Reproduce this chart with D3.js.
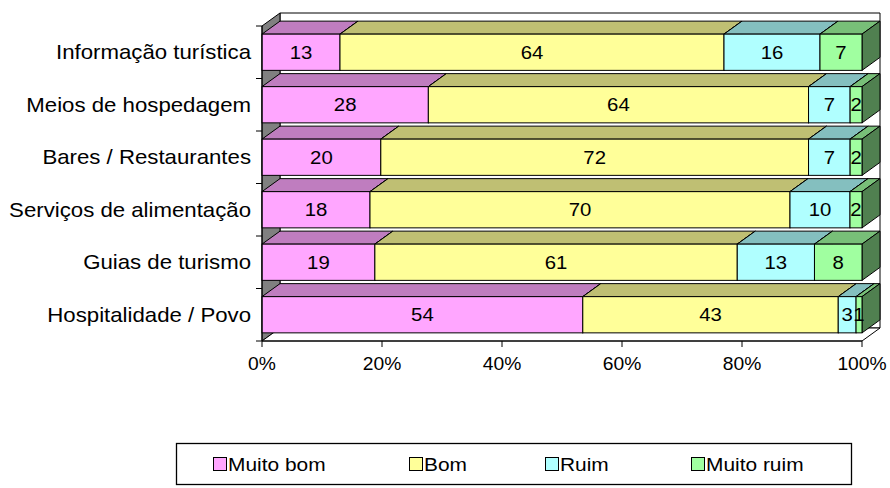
<!DOCTYPE html>
<html>
<head>
<meta charset="utf-8">
<script src="https://cdn.jsdelivr.net/npm/d3@7/dist/d3.min.js"></script>
<style>
  html, body { margin: 0; padding: 0; background: #fff; }
  svg { display: block; font-family: "Liberation Sans", Arial, sans-serif; }
</style>
</head>
<body>
<svg id="chart" width="890" height="488"></svg>
<script>
// Survey answers per service (percent of respondents)
const categories = [
  "Informação turística",
  "Meios de hospedagem",
  "Bares / Restaurantes",
  "Serviços de alimentação",
  "Guias de turismo",
  "Hospitalidade / Povo"
];
const seriesNames = ["Muito bom", "Bom", "Ruim", "Muito ruim"];
const muitoBom  = [13, 28, 20, 18, 19, 54];
const bom       = [64, 64, 72, 70, 61, 43];
const ruim      = [16, 7, 7, 10, 13, 3];
const muitoRuim = [7, 2, 2, 2, 8, 1];
const xTicks = [0, 0.2, 0.4, 0.6, 0.8, 1];
const seriesColors = ["#FFA6FF", "#FFFF99", "#B0FFFF", "#A0FFA0"];

const seriesValues = [muitoBom, bom, ruim, muitoRuim];

const svg = d3.select("#chart");
const STRETCH = 1.1;

// plot frame (front plane) and depth offset of the 3D box
const pLeft = 262, pRight = 862, pTop = 26, pBottom = 341;
const DX = 18, DY = -13;

const x = d3.scaleLinear().domain([0, 1]).range([pLeft, pRight]);
const y = d3.scaleBand().domain(categories).range([pTop, pBottom])
  .paddingInner(0.31).paddingOuter(0.155);
const step = (pBottom - pTop) / categories.length;

const shade = (c, k) => {
  const col = d3.rgb(c);
  return d3.rgb(col.r * k, col.g * k, col.b * k).formatHex();
};
const poly = pts => "M" + pts.map(p => p.join(",")).join("L") + "Z";

// walls and floor
const g = svg.append("g");
g.append("path")
  .attr("d", poly([[pLeft + DX, pTop + DY], [pRight + DX, pTop + DY], [pRight + DX, pBottom + DY], [pLeft + DX, pBottom + DY]]))
  .attr("fill", "#fff").attr("stroke", "#000").attr("stroke-width", 1);
g.append("path")
  .attr("d", poly([[pLeft, pTop], [pLeft + DX, pTop + DY], [pLeft + DX, pBottom + DY], [pLeft, pBottom]]))
  .attr("fill", "#808080").attr("stroke", "#000").attr("stroke-width", 1);
g.append("path")
  .attr("d", poly([[pLeft, pBottom], [pRight, pBottom], [pRight + DX, pBottom + DY], [pLeft + DX, pBottom + DY]]))
  .attr("fill", "#fff").attr("stroke", "#000").attr("stroke-width", 1);

// stacked 100% bars
categories.forEach((cat, i) => {
  const vals = seriesValues.map(s => s[i]);
  const total = d3.sum(vals);
  const y0 = y(cat), h = y.bandwidth();
  let acc = 0;
  const bar = svg.append("g");
  vals.forEach((v, j) => {
    const xa = x(acc / total), xb = x((acc + v) / total);
    acc += v;
    const c = seriesColors[j];
    const seg = bar.append("g");
    seg.append("path")
      .attr("d", poly([[xa, y0], [xa + DX, y0 + DY], [xb + DX, y0 + DY], [xb, y0]]))
      .attr("fill", shade(c, 0.75)).attr("stroke", "#000").attr("stroke-width", 1);
    seg.append("path")
      .attr("d", poly([[xb, y0], [xb + DX, y0 + DY], [xb + DX, y0 + h + DY], [xb, y0 + h]]))
      .attr("fill", shade(c, 0.5)).attr("stroke", "#000").attr("stroke-width", 1);
    seg.append("rect")
      .attr("x", xa).attr("y", y0).attr("width", xb - xa).attr("height", h)
      .attr("fill", c).attr("stroke", "#000").attr("stroke-width", 1);
  });
  // value labels on top of all segments
  let acc2 = 0;
  vals.forEach(v => {
    const cx = x((acc2 + v / 2) / total);
    acc2 += v;
    bar.append("text")
      .attr("transform", `translate(${cx},${y0 + h / 2 + 6.5}) scale(${STRETCH},1)`)
      .attr("text-anchor", "middle")
      .attr("font-size", 18.5)
      .attr("fill", "#000")
      .text(v);
  });
});

// category axis
svg.append("line").attr("x1", pLeft).attr("x2", pLeft).attr("y1", pTop).attr("y2", pBottom)
  .attr("stroke", "#000");
d3.range(categories.length + 1).forEach(k => {
  const ty = pTop + k * step;
  svg.append("line").attr("x1", pLeft - 6).attr("x2", pLeft).attr("y1", ty).attr("y2", ty)
    .attr("stroke", "#000");
});
categories.forEach(cat => {
  svg.append("text")
    .attr("transform", `translate(251,${y(cat) + y.bandwidth() / 2 + 7}) scale(${STRETCH},1)`)
    .attr("text-anchor", "end")
    .attr("font-size", 20.2)
    .text(cat);
});

// value axis
svg.append("line").attr("x1", pLeft).attr("x2", pRight).attr("y1", pBottom).attr("y2", pBottom)
  .attr("stroke", "#000");
xTicks.forEach(t => {
  svg.append("line").attr("x1", x(t)).attr("x2", x(t)).attr("y1", pBottom).attr("y2", pBottom + 6)
    .attr("stroke", "#000");
  svg.append("text")
    .attr("transform", `translate(${x(t)},${pBottom + 29}) scale(${STRETCH},1)`)
    .attr("text-anchor", "middle")
    .attr("font-size", 17.5)
    .text(d3.format(".0%")(t));
});

// legend
const lg = svg.append("g");
lg.append("rect").attr("x", 176.5).attr("y", 443.5).attr("width", 675).attr("height", 41)
  .attr("fill", "#fff").attr("stroke", "#000").attr("stroke-width", 1.3);
const legendX = [213, 409, 545, 691];
seriesNames.forEach((name, j) => {
  lg.append("rect").attr("x", legendX[j] + 0.5).attr("y", 457.5).attr("width", 13).attr("height", 13)
    .attr("fill", seriesColors[j]).attr("stroke", "#000");
  lg.append("text")
    .attr("transform", `translate(${legendX[j] + 15},${471}) scale(${STRETCH},1)`)
    .attr("font-size", 19)
    .text(name);
});
</script>
</body>
</html>
